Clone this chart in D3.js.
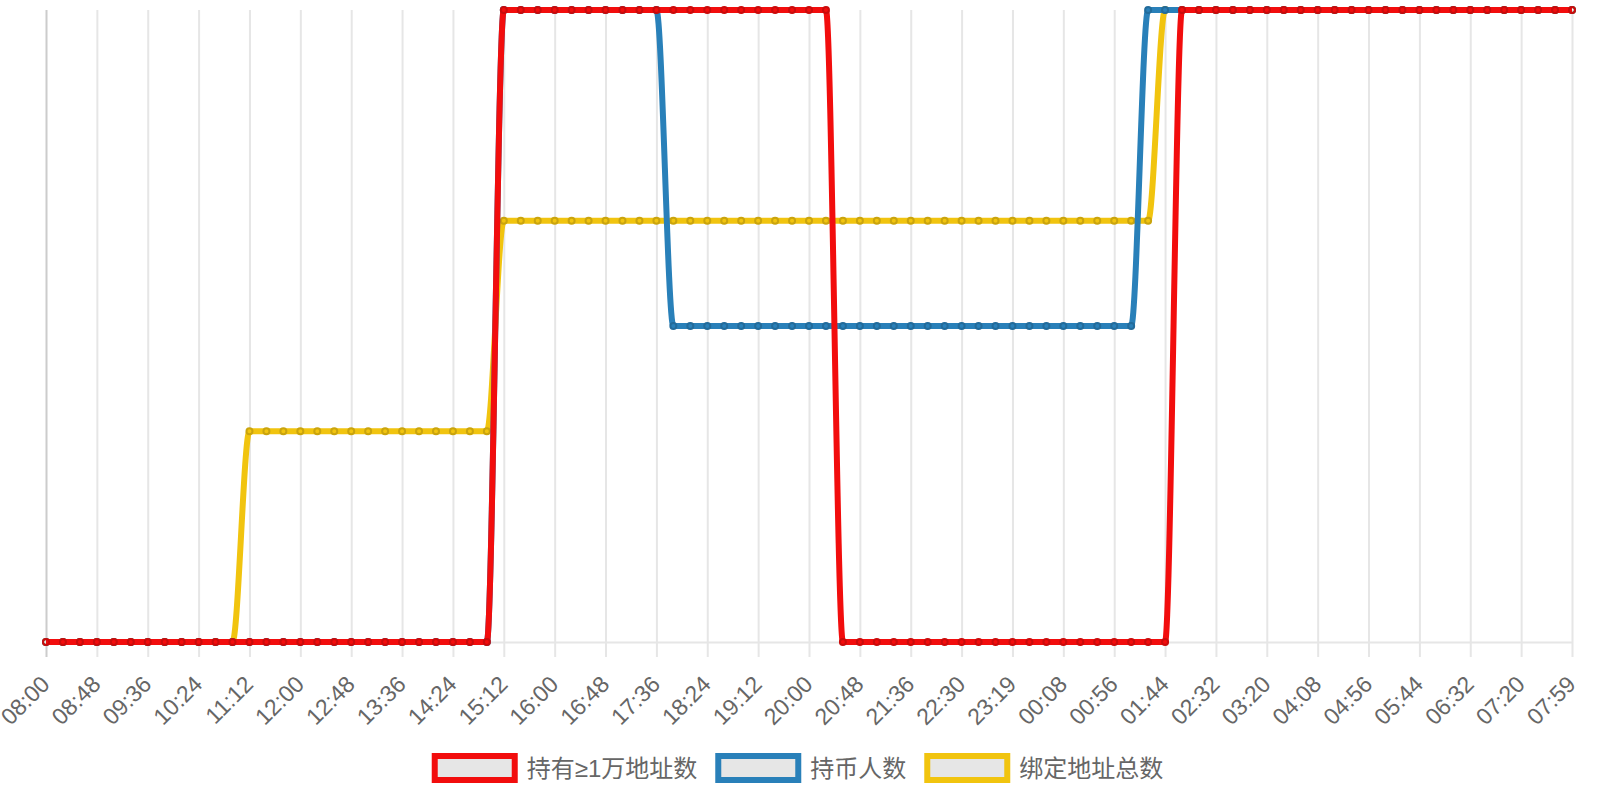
<!DOCTYPE html>
<html>
<head>
<meta charset="utf-8">
<script src="https://cdn.jsdelivr.net/npm/d3@7"></script>
<style>
    body { margin: 0; background: #fff; }
    svg { display: block; font-family: "Liberation Sans", Arial, "Noto Sans CJK SC", sans-serif; }
</style>
</head>
<body>
<div id="chart"></div>
<script>
/*
step line chart, three series on a shared time axis
 */

// time of every data point (only every 3rd one is labelled)
var times = [
    "08:00", "08:16", "08:32", "08:48", "09:04", "09:20", "09:36", "09:52", "10:08", "10:24",
    "10:40", "10:56", "11:12", "11:28", "11:44", "12:00", "12:16", "12:32", "12:48", "13:04",
    "13:20", "13:36", "13:52", "14:08", "14:24", "14:40", "14:56", "15:12", "15:28", "15:44",
    "16:00", "16:16", "16:32", "16:48", "17:04", "17:20", "17:36", "17:52", "18:08", "18:24",
    "18:40", "18:56", "19:12", "19:28", "19:44", "20:00", "20:16", "20:32", "20:48", "21:04",
    "21:20", "21:36", "21:54", "22:12", "22:30", "22:46", "23:03", "23:19", "23:35", "23:52",
    "00:08", "00:24", "00:40", "00:56", "01:12", "01:28", "01:44", "02:00", "02:16", "02:32",
    "02:48", "03:04", "03:20", "03:36", "03:52", "04:08", "04:24", "04:40", "04:56", "05:12",
    "05:28", "05:44", "06:00", "06:16", "06:32", "06:48", "07:04", "07:20", "07:33", "07:46",
    "07:59"
];

// labels shown under the axis
var tickLabels = [
    "08:00", "08:48", "09:36", "10:24", "11:12", "12:00", "12:48", "13:36", "14:24", "15:12",
    "16:00", "16:48", "17:36", "18:24", "19:12", "20:00", "20:48", "21:36", "22:30", "23:19",
    "00:08", "00:56", "01:44", "02:32", "03:20", "04:08", "04:56", "05:44", "06:32", "07:20",
    "07:59"
];

var seriesNames = ["持有≥1万地址数", "持币人数", "绑定地址总数"];
var seriesColors = ["#f20d0d", "#2980b9", "#f1c40f"];

var holders10k = [
    0, 0, 0, 0, 0, 0, 0, 0, 0, 0,
    0, 0, 0, 0, 0, 0, 0, 0, 0, 0,
    0, 0, 0, 0, 0, 0, 0, 6, 6, 6,
    6, 6, 6, 6, 6, 6, 6, 6, 6, 6,
    6, 6, 6, 6, 6, 6, 6, 0, 0, 0,
    0, 0, 0, 0, 0, 0, 0, 0, 0, 0,
    0, 0, 0, 0, 0, 0, 0, 6, 6, 6,
    6, 6, 6, 6, 6, 6, 6, 6, 6, 6,
    6, 6, 6, 6, 6, 6, 6, 6, 6, 6,
    6
];

var holders = [
    0, 0, 0, 0, 0, 0, 0, 0, 0, 0,
    0, 0, 0, 0, 0, 0, 0, 0, 0, 0,
    0, 0, 0, 0, 0, 0, 0, 6, 6, 6,
    6, 6, 6, 6, 6, 6, 6, 3, 3, 3,
    3, 3, 3, 3, 3, 3, 3, 3, 3, 3,
    3, 3, 3, 3, 3, 3, 3, 3, 3, 3,
    3, 3, 3, 3, 3, 6, 6, 6, 6, 6,
    6, 6, 6, 6, 6, 6, 6, 6, 6, 6,
    6, 6, 6, 6, 6, 6, 6, 6, 6, 6,
    6
];

var boundAddresses = [
    0, 0, 0, 0, 0, 0, 0, 0, 0, 0,
    0, 0, 2, 2, 2, 2, 2, 2, 2, 2,
    2, 2, 2, 2, 2, 2, 2, 4, 4, 4,
    4, 4, 4, 4, 4, 4, 4, 4, 4, 4,
    4, 4, 4, 4, 4, 4, 4, 4, 4, 4,
    4, 4, 4, 4, 4, 4, 4, 4, 4, 4,
    4, 4, 4, 4, 4, 4, 6, 6, 6, 6,
    6, 6, 6, 6, 6, 6, 6, 6, 6, 6,
    6, 6, 6, 6, 6, 6, 6, 6, 6, 6,
    6
];

var width = 1600;
var height = 800;

var svg = d3.select("#chart")
    .append("svg")
    .attr("width", width)
    .attr("height", height);

// plot area (plotTop, not "top": window.top is read only)
var plotLeft = 46, plotRight = 1572, plotTop = 10, plotBottom = 642;

var xScale = d3.scalePoint()
    .domain(d3.range(times.length))
    .range([plotLeft, plotRight]);

var yScale = d3.scaleLinear()
    .domain([0, 6])
    .range([plotBottom, plotTop]);

// labelled indices
var tickIndex = tickLabels.map(function (t) {
    return times.indexOf(t);
});

//x axis + vertical grid
var xAxis = d3.axisBottom(xScale)
    .tickValues(tickIndex)
    .tickSizeInner(15)
    .tickSizeOuter(0)
    .tickFormat(function (i) { return times[i]; });

var axisG = svg.append("g")
    .attr("transform", "translate(0," + plotBottom + ")")
    .call(xAxis);

axisG.select(".domain")
    .attr("stroke", "#e6e6e6")
    .attr("stroke-width", 2);

axisG.selectAll(".tick line")
    .attr("y1", -(plotBottom - plotTop))
    .attr("y2", 15)
    .attr("stroke", function (d, i) { return i === 0 ? "#cccccc" : "#e6e6e6"; })
    .attr("stroke-width", 2);

axisG.selectAll(".tick text")
    .attr("fill", "#666")
    .attr("font-size", "23px")
    .attr("text-anchor", "end")
    .attr("dominant-baseline", "central")
    .attr("dy", null)
    .attr("y", 0)
    .attr("transform", "translate(-1,38) rotate(-45)");

//lines
var lineGen = d3.line()
    .x(function (d, i) { return xScale(i); })
    .y(function (d) { return yScale(d); })
    .curve(d3.curveMonotoneX);

var seriesData = [holders10k, holders, boundAddresses];

// draw back to front so the first series ends up on top
for (var k = seriesData.length - 1; k >= 0; k--) {
    var g = svg.append("g");
    g.append("path")
        .datum(seriesData[k])
        .attr("d", lineGen)
        .attr("fill", "none")
        .attr("stroke", seriesColors[k])
        .attr("stroke-width", 6);

    g.selectAll("circle")
        .data(seriesData[k])
        .enter()
        .append("circle")
        .attr("cx", function (d, i) { return xScale(i); })
        .attr("cy", function (d) { return yScale(d); })
        .attr("r", 3)
        .attr("fill", "none")
        .attr("stroke", d3.color(seriesColors[k]).darker(0.5))
        .attr("stroke-width", 2);
}

//legend
var legend = svg.append("g");
var boxW = 80, boxH = 24, fontSize = 24, itemGap = 21;
var xPos = 0;
seriesNames.forEach(function (name, k) {
    var item = legend.append("g").attr("transform", "translate(" + xPos + ",0)");
    item.append("rect")
        .attr("x", 0)
        .attr("y", 0)
        .attr("width", boxW)
        .attr("height", boxH)
        .attr("fill", "#e6e6e6")
        .attr("stroke", seriesColors[k])
        .attr("stroke-width", 6);
    var txt = item.append("text")
        .attr("x", boxW + 12)
        .attr("y", boxH / 2)
        .attr("dominant-baseline", "central")
        .attr("font-size", fontSize + "px")
        .attr("fill", "#666")
        .text(name);
    var w = boxW + 12 + txt.node().getComputedTextLength();
    xPos += w + itemGap;
});
var legendWidth = xPos - itemGap;
legend.attr("transform", "translate(" + ((width - legendWidth) / 2 - 1) + ",756)");
</script>
</body>
</html>
